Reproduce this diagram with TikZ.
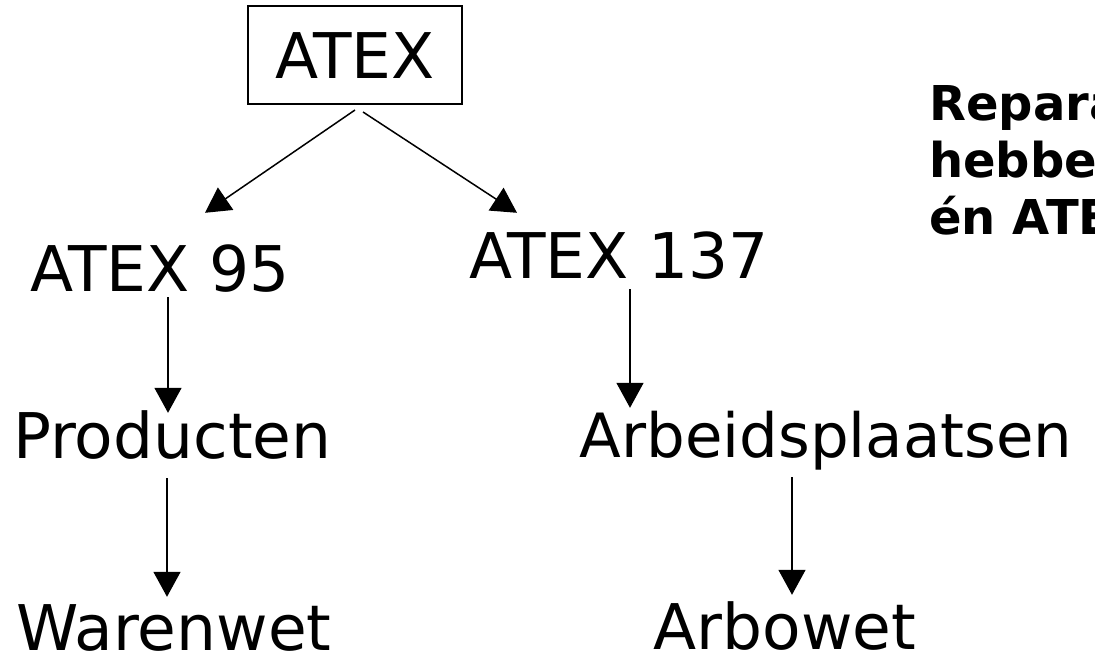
\documentclass[tikz,border=0pt]{standalone}
\usepackage{fontspec}
\setmainfont{DejaVu Sans}
\usetikzlibrary{arrows.meta}

\tikzset{
  law/.style={inner sep=0pt, text height=47pt, text depth=0pt,
              font=\fontsize{63}{76}\selectfont},
  arr/.style={line width=1.5pt, -{Triangle[length=25pt, width=27pt]}},
  note/.style={inner sep=0pt, anchor=base west,
               font=\bfseries\fontsize{48}{57}\selectfont},
}

\begin{document}
\begin{tikzpicture}[x=1pt, y=-1pt]
    \useasboundingbox (0, 0) rectangle (1095, 659);
    \clip (0, 0) rectangle (1095, 659);

    % Top box
    \node [law, draw, line width=2pt, minimum width=214pt, minimum height=98pt]
          (atex) at (355, 55) {ATEX};

    % Directives
    \node [law] (a95)  at (160, 267.5) {ATEX 95};
    \node [law] (a137) at (619, 254.5) {ATEX 137};

    % Fields
    \node [law] (prod) at (172.5, 434.5) {Producten};
    \node [law, font=\fontsize{61}{74}\selectfont] (arb) at (826, 433.5) {Arbeidsplaatsen};

    % Laws
    \node [law] (waren) at (174, 626.5) {Warenwet};
    \node [law] (arbo)  at (785, 625.5) {Arbowet};

    % Side note
    \foreach \txt [count=\i from 0] in {Reparateurs, hebben te maken met ATEX 95, én ATEX 137} {
      \node [note] (note\i) at (929, {120 + 57*\i}) {\txt};
    }

    % Connections
    \draw [arr] ([yshift=-5pt]atex.south) -- ([xshift=45pt, yshift=31pt]a95.north);
    \draw [arr] ([xshift=8pt, yshift=-7pt]atex.south) -- ([xshift=-102pt, yshift=18pt]a137.north);
    \draw [arr] ([xshift=8pt, yshift=-6pt]a95.south) -- ([xshift=-4.5pt, yshift=-2pt]prod.north);
    \draw [arr] ([xshift=-5.5pt, yshift=-20pt]prod.south) -- ([xshift=-7pt, yshift=6pt]waren.north);
    \draw [arr] ([xshift=11pt, yshift=-11pt]a137.south) -- ([xshift=-196pt, yshift=2pt]arb.north);
    \draw [arr] ([xshift=-34pt, yshift=-20pt]arb.south) -- ([xshift=7pt, yshift=7pt]arbo.north);
\end{tikzpicture}
\end{document}
